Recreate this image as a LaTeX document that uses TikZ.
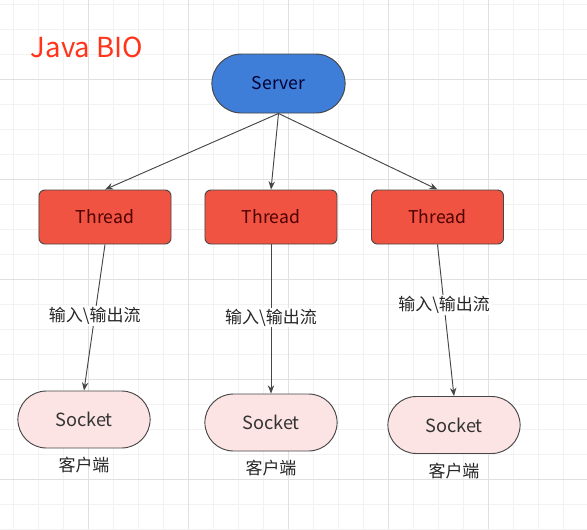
\documentclass[tikz,border=0pt]{standalone}
\usepackage{fontspec}
\setmainfont{Noto Sans CJK SC}
\usetikzlibrary{shapes.misc,arrows.meta}
\definecolor{serverblue}{RGB}{62,125,216}
\definecolor{threadred}{RGB}{240,83,66}
\definecolor{socketpink}{RGB}{253,228,228}
\definecolor{edgegray}{RGB}{70,70,70}
\definecolor{titlered}{RGB}{255,52,26}
\begin{document}
\begin{tikzpicture}[x=0.03cm,y=-0.03cm,>={Stealth[length=7pt,width=5.5pt]},
  serverbox/.style={rounded rectangle,draw=edgegray,thick,fill=serverblue,
    minimum width=4.23cm,minimum height=1.77cm,text=black!80!blue,font=\fontsize{15}{18}\selectfont},
  threadbox/.style={rectangle,rounded corners=5pt,draw=edgegray,thick,fill=threadred,
    minimum width=3.96cm,minimum height=1.62cm,text=black!70!red,font=\fontsize{15}{18}\selectfont},
  socketbox/.style={rounded rectangle,draw=edgegray,thick,fill=socketpink,
    minimum width=4.2cm,minimum height=1.71cm,text=black!80,font=\fontsize{15.5}{18}\selectfont},
  flow/.style={->,draw=edgegray,line width=0.8pt},
  flowlabel/.style={fill=white,inner sep=1pt,text=black!85,font=\fontsize{14.5}{16}\selectfont},
  clientlabel/.style={text=black!85,font=\fontsize{14.5}{16}\selectfont}]
 \useasboundingbox[fill=white] (0,0) rectangle (587,529);
 \foreach \x in {13,38,...,588} \draw[black!5] (\x,0) -- (\x,529);
 \foreach \y in {4,29,...,529} \draw[black!5] (0,\y) -- (587,\y);
 \foreach \x in {88,188,...,588} \draw[black!12] (\x,0) -- (\x,529);
 \foreach \y in {79,179,...,529} \draw[black!12] (0,\y) -- (587,\y);
 \node[text=titlered,font=\fontsize{23.5}{28}\selectfont] (title) at (87,47) {Java BIO};
 \node[serverbox] (server) at (278.5,83.5) {Server};
 \node[threadbox] (thread1) at (105,217) {Thread};
 \node[threadbox] (thread2) at (271,217) {Thread};
 \node[threadbox] (thread3) at (437.5,217) {Thread};
 \node[socketbox] (socket1) at (84,419.5) {Socket};
 \node[socketbox] (socket2) at (271,422.5) {Socket};
 \node[socketbox] (socket3) at (454,425) {Socket};
 \foreach \i in {1,2,3} {
   \draw[flow] (server.south) -- (thread\i.north);
   \node[clientlabel] (client\i) at ([yshift=-0.5cm]socket\i.south) {客户端};
 }
 \draw[flow] (thread1.south) -- (socket1.north) node[flowlabel,pos=.49] (io1) {输入\textbackslash 输出流};
 \draw[flow] (thread2.south) -- (socket2.north) node[flowlabel,pos=.49] (io2) {输入\textbackslash 输出流};
 \draw[flow] (thread3.south) -- (socket3.north) node[flowlabel,pos=.4] (io3) {输入\textbackslash 输出流};
\end{tikzpicture}
\end{document}
